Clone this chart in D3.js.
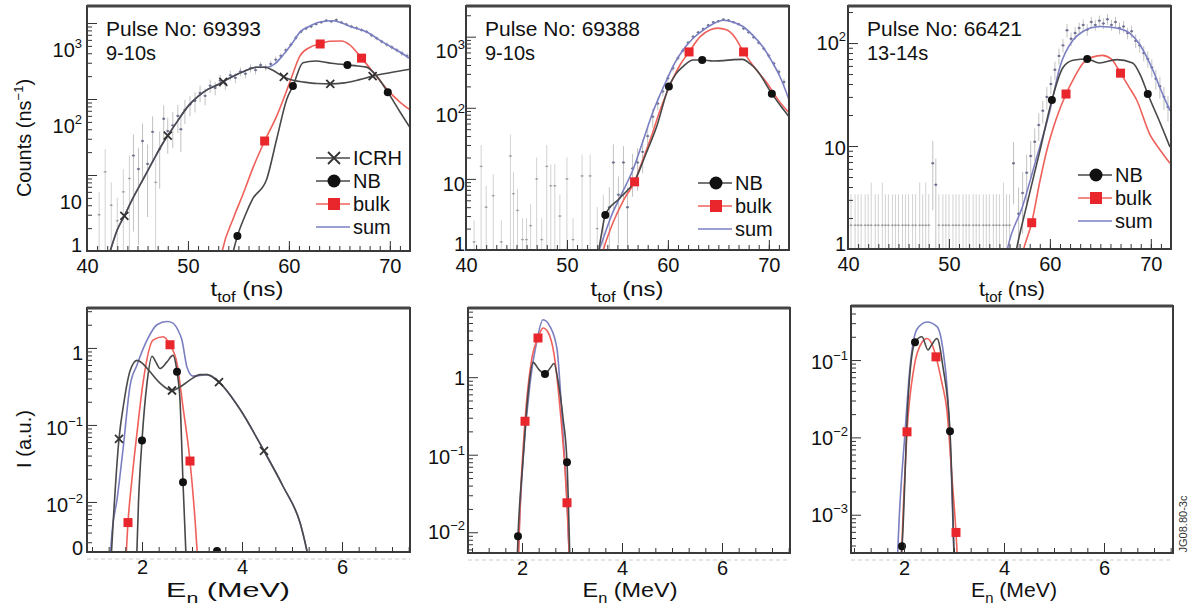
<!DOCTYPE html>
<html>
<head>
<meta charset="utf-8">
<script src="https://cdn.jsdelivr.net/npm/d3@7"></script>
<style>
  body { margin: 0; background: #fff; }
  svg { font-family: "Liberation Sans", Arial, Helvetica, sans-serif; }
</style>
</head>
<body>
<svg id="chart" width="1194" height="612"></svg>
<script>
// ---- data: [t (ns) or E (MeV), value] ----

// Pulse 69393, time of flight
const sum1 = [[41.6,0.5],[42.3,1.0],[43.0,1.9],[43.7,2.9],[44.5,4.8],[45.5,8.5],[46.5,15],[47.5,26],[48.0,33],[49,52],[50,80],[51,108],[52,135],[53,155],[54,185],[55,215],[56,245],[56.8,262],[57.8,262],[58.6,290],[59.5,390],[60.4,560],[61.1,760],[62.0,900],[63.1,1030],[64.4,1070],[65.2,1010],[66.0,910],[67.7,760],[69.3,560],[71.0,415],[72,340]];
const icrh1 = [[41.6,0.5],[42.3,1.0],[43.0,1.9],[43.7,2.9],[44.5,4.8],[45.5,8.5],[46.5,15],[47.5,26],[48.0,33],[49,52],[50,80],[51,108],[52,135],[53,155],[54,185],[55,215],[56,245],[56.8,262],[57.6,262],[58.5,235],[59.5,195],[60.5,175],[61.5,167],[62.8,160],[64.1,158],[65.5,163],[67,180],[68.3,200],[70,222],[72,247]];
const nb1 = [[54.0,0.5],[54.5,1.0],[54.9,1.57],[55.7,3.0],[56.4,4.8],[57.8,8.8],[58.8,30],[59.8,100],[60.4,148],[61.4,300],[62.6,316],[64.2,295],[65.8,280],[66.8,272],[67.7,263],[68.7,200],[69.8,123],[71.0,68],[72,42]];
const bulk1 = [[53.0,0.5],[53.4,1.0],[54.5,2.7],[55.5,5.8],[56.5,13],[57.6,28],[58.8,60],[60.1,167],[61.1,370],[62.1,480],[63.1,530],[64,575],[65.2,580],[66,520],[67.2,345],[68.3,230],[69.7,135],[71.0,91],[72,72]];
const icrhMarks1 = [[43.7,2.9],[48.0,33],[53.5,168],[59.5,195],[64.1,158],[68.3,200]];
const nbMarks1 = [[54.9,1.57],[60.4,148],[65.8,280],[69.8,123]];
const bulkMarks1 = [[57.6,28],[63.1,530],[67.2,345]];
// measured: [t, counts, relative error]
const meas1 = [[41.2,3,1],[41.8,11,1],[42.4,4,1],[43.0,2.5,1],[43.6,6,1],[44.2,9,1],[44.6,18,0.9],[45.1,12,0.9],[45.5,28,0.7],[46.0,14,0.8],[46.5,37,0.6],[46.8,8,1],[47.2,22,0.7],[47.6,55,0.5],[48.0,38,0.5],[48.5,45,0.5],[49.0,60,0.4],[49.3,40,0.5],[49.7,72,0.35],[50.2,85,0.3],[50.7,95,0.3],[51.2,120,0.25],[51.7,110,0.25],[52.2,150,0.2],[52.7,140,0.2],[53.2,175,0.18],[53.7,160,0.18],[54.2,205,0.15],[54.7,190,0.15],[55.2,230,0.13],[55.7,215,0.13],[56.2,255,0.12],[56.7,240,0.12],[57.2,280,0.1],[57.7,260,0.1],[58.2,290,0.1],[58.7,330,0.1],[59.2,370,0.08],[59.7,440,0.08],[60.2,520,0.07],[60.7,640,0.07],[61.2,770,0.06],[61.7,850,0.06],[62.2,900,0.05],[62.7,970,0.05],[63.2,1020,0.05],[63.7,1080,0.05],[64.2,1050,0.05],[64.7,1100,0.05],[65.2,1020,0.05],[65.7,960,0.05],[66.2,900,0.05],[66.7,860,0.05],[67.2,810,0.05],[67.7,770,0.05],[68.2,690,0.06],[68.7,630,0.06],[69.2,570,0.06],[69.7,520,0.07],[70.2,480,0.07],[70.7,440,0.07],[71.2,400,0.08],[71.7,370,0.08]];

// Pulse 69388, time of flight
const sum2 = [[52.8,0.7],[53.2,1.0],[54.4,3.0],[55.5,6.5],[56.5,13],[57.5,33],[58.5,86],[59.2,150],[59.9,250],[60.7,430],[61.5,650],[62.5,950],[63.5,1240],[64.5,1520],[65.5,1700],[66.5,1600],[67.4,1400],[68.4,1050],[69.4,720],[70.3,450],[71.1,275],[72,130]];
const nb2 = [[53.0,0.7],[53.4,1.6],[53.8,3.1],[55.2,5.3],[56.7,9.3],[57.8,22],[58.9,55],[60.1,199],[60.8,300],[61.5,380],[62.5,470],[63.4,470],[64.5,455],[65.5,460],[66.5,475],[67.4,480],[68.1,420],[68.8,340],[70.3,158],[71.2,105],[72,75]];
const bulk2 = [[53.3,0.7],[53.6,1.0],[54.6,2.5],[55.6,5],[56.7,9.1],[57.6,20],[58.5,45],[59.2,90],[59.9,164],[61.2,400],[62.1,610],[63.2,1000],[64.2,1250],[64.9,1320],[65.8,1250],[66.6,1000],[67.5,610],[68.5,380],[69.8,225],[71,125],[72,85]];
const nbMarks2 = [[53.8,3.1],[60.1,199],[63.4,470],[70.3,158]];
const bulkMarks2 = [[56.7,9.1],[62.1,610],[67.5,610]];
const meas2 = [[40.8,1.3,1],[41.5,15,1],[42.0,4,1],[42.7,5.8,1],[43.5,1.3,1],[44.4,21,1],[44.7,6.2,1],[45.1,3.6,1],[45.6,1.4,1],[46.0,1.4,1],[46.4,2.2,1],[47.0,10,1],[47.5,1.4,1],[48.0,15,1],[48.4,8,1],[48.8,8,1],[49.3,3,1],[50.0,10,1],[50.6,1.4,1],[51.5,11,1],[52.3,11,1],[53.0,2,1],[53.6,3,1],[54.2,4,0.9],[54.6,17,0.8],[55.1,6,0.8],[55.6,17,0.7],[56.0,4,0.9],[56.5,14,0.6],[57.0,17,0.6],[57.5,24,0.5],[58.0,40,0.4],[58.5,75,0.3],[59.0,115,0.2],[59.5,170,0.15],[60.0,260,0.12],[60.5,360,0.1],[61.0,500,0.08],[61.5,640,0.07],[62.0,820,0.06],[62.5,1000,0.06],[63.0,1150,0.05],[63.5,1280,0.05],[64.0,1450,0.05],[64.5,1600,0.04],[65.0,1650,0.04],[65.5,1750,0.04],[66.0,1700,0.04],[66.5,1600,0.04],[67.0,1500,0.05],[67.5,1300,0.05],[68.0,1150,0.05],[68.5,980,0.06],[69.0,820,0.06],[69.5,680,0.07],[70.0,540,0.08],[70.5,420,0.09],[71.0,320,0.1],[71.5,230,0.12]];

// Pulse 66421, time of flight
const sum3 = [[55.5,0.7],[55.8,1.0],[57.3,2.6],[58.7,7.8],[60.0,22],[61.0,59],[62.3,107],[63.2,128],[64.0,140],[65.0,145],[65.9,143],[67.0,137],[67.9,125],[68.8,100],[69.6,73],[70.3,52],[70.9,37],[71.9,22]];
const nb3 = [[56.4,0.7],[56.7,1.0],[57.8,2.9],[59.0,8.9],[60.2,28],[61.3,58],[62.3,68],[63.7,70],[64.9,64],[66.6,69],[68.2,64],[69.0,48],[69.7,32],[70.9,17],[71.9,9.8]];
const bulk3 = [[57.0,0.7],[57.4,1.0],[58.2,1.8],[59.0,4.5],[59.7,9.1],[60.6,18],[61.6,32],[62.4,46],[63.3,64],[64.2,73],[65.2,76],[66.1,70],[67.0,51],[67.8,38],[68.6,28],[69.9,13],[70.9,9.2],[71.9,6.8]];
const nbMarks3 = [[60.2,28],[63.7,70],[69.7,32]];
const bulkMarks3 = [[58.2,1.8],[61.6,32],[67.0,51]];
const meas3 = [[40.3,1.7,1],[40.7,1.7,1],[41.0,1.7,1],[41.3,1.7,1],[41.7,1.7,1],[42.0,1.7,1],[42.3,1.7,1.6],[42.7,1.7,1],[43.0,1.7,1],[43.4,1.7,1.6],[43.7,1.7,1],[44.0,1.7,1],[44.4,1.7,1],[44.7,1.7,1],[45.0,1.7,1],[45.4,1.7,1],[45.7,1.7,1],[46.0,1.7,1],[46.4,1.7,1],[46.7,1.7,1],[47.1,1.7,1.6],[47.4,1.7,1],[47.7,1.7,1.6],[48.0,1.7,1],[48.4,6.8,0.65],[48.7,4.2,0.8],[49.0,1.7,1],[49.4,1.7,1],[49.7,1.7,1],[50.0,1.7,1],[50.4,1.7,1],[50.7,1.7,1],[51.0,1.7,1],[51.4,1.7,1],[51.7,1.7,1],[52.0,1.7,1],[52.4,1.7,1],[52.7,1.7,1],[53.0,1.7,1],[53.4,1.7,1],[53.7,1.7,1],[54.0,1.7,1],[54.4,1.7,1],[54.7,1.7,1],[55.0,1.7,1],[55.4,1.7,1.6],[55.7,1.7,1],[56.0,1.7,1],[56.4,6.8,0.6],[56.9,2.2,0.8],[57.3,3.5,0.6],[57.7,5.5,0.5],[58.1,8,0.4],[58.5,11,0.35],[58.9,16,0.3],[59.3,22,0.25],[59.7,30,0.25],[60.1,40,0.2],[60.5,55,0.2],[60.9,75,0.18],[61.3,95,0.15],[61.7,133,0.15],[62.1,110,0.15],[62.5,125,0.14],[62.9,140,0.13],[63.3,150,0.13],[63.7,135,0.13],[64.1,160,0.12],[64.5,150,0.12],[64.9,165,0.12],[65.3,155,0.12],[65.7,170,0.12],[66.1,150,0.12],[66.5,160,0.12],[66.9,140,0.13],[67.3,145,0.13],[67.7,125,0.13],[68.1,130,0.14],[68.5,105,0.15],[68.9,95,0.15],[69.3,80,0.17],[69.7,70,0.18],[70.1,58,0.2],[70.5,45,0.22],[70.9,38,0.24],[71.3,30,0.25],[71.7,24,0.28]];

// Pulse 69393, energy spectrum
const sum4 = [[1.34,0.001],[1.40,0.004],[1.5,0.0107],[1.62,0.048],[1.76,0.32],[1.9,0.6],[2.1,1.26],[2.3,2.0],[2.5,2.2],[2.62,2.1],[2.72,1.7],[2.8,1.26],[2.9,0.56],[3.02,0.43],[3.3,0.45],[3.54,0.36],[3.96,0.16],[4.44,0.046],[4.82,0.016],[5.16,0.0054],[5.42,0.001]];
const icrh4 = [[1.36,0.001],[1.42,0.005],[1.54,0.066],[1.64,0.2],[1.76,0.5],[1.9,0.69],[2.02,0.62],[2.16,0.49],[2.36,0.35],[2.6,0.28],[2.82,0.33],[3.0,0.4],[3.16,0.45],[3.3,0.45],[3.54,0.36],[3.96,0.16],[4.44,0.046],[4.82,0.016],[5.16,0.0054],[5.42,0.001]];
const nb4 = [[1.88,0.001],[1.93,0.01],[2.0,0.063],[2.1,0.35],[2.2,0.78],[2.28,0.65],[2.36,0.54],[2.5,0.66],[2.62,0.8],[2.7,0.49],[2.76,0.21],[2.82,0.018],[2.88,0.002]];
const bulk4 = [[1.66,0.001],[1.72,0.0054],[1.8,0.02],[1.9,0.079],[2.02,0.35],[2.22,1.26],[2.42,1.4],[2.56,1.1],[2.7,0.63],[2.82,0.17],[2.96,0.034],[3.06,0.006],[3.14,0.001]];
const icrhMarks4 = [[1.54,0.066],[2.6,0.28],[3.54,0.36],[4.44,0.046]];
const nbMarks4 = [[2.0,0.063],[2.7,0.49],[2.82,0.018],[3.5,0.0023]];
const bulkMarks4 = [[1.72,0.0054],[2.56,1.1],[2.96,0.034]];

// Pulse 69388, energy spectrum
const sum5 = [[1.88,0.001],[1.94,0.01],[2.02,0.085],[2.16,0.83],[2.3,3.0],[2.42,5.5],[2.56,4.5],[2.7,2.3],[2.82,0.19],[2.9,0.025],[2.97,0.002]];
const nb5 = [[1.87,0.001],[1.92,0.0089],[2.02,0.085],[2.12,0.6],[2.22,1.55],[2.34,1.25],[2.46,1.1],[2.56,1.3],[2.64,1.5],[2.72,0.9],[2.82,0.3],[2.9,0.08],[2.97,0.002]];
const bulk5 = [[1.9,0.001],[1.96,0.02],[2.06,0.27],[2.2,1.8],[2.32,3.2],[2.42,4.3],[2.52,3.8],[2.64,2.0],[2.76,0.4],[2.9,0.024],[2.97,0.002]];
const nbMarks5 = [[1.92,0.0089],[2.46,1.1],[2.9,0.08]];
const bulkMarks5 = [[2.06,0.27],[2.32,3.2],[2.9,0.024]];

// Pulse 66421, energy spectrum
const sum6 = [[1.86,0.0002],[1.9,0.0008],[2.02,0.0115],[2.12,0.081],[2.26,0.25],[2.46,0.31],[2.66,0.27],[2.78,0.135],[2.88,0.03],[2.95,0.003],[3.0,0.0003]];
const nb6 = [[1.9,0.0002],[1.96,0.00039],[2.08,0.03],[2.22,0.17],[2.36,0.2],[2.48,0.135],[2.56,0.16],[2.66,0.19],[2.78,0.081],[2.92,0.012],[3.0,0.0003]];
const bulk6 = [[1.94,0.0002],[2.0,0.002],[2.06,0.0118],[2.2,0.08],[2.36,0.17],[2.46,0.19],[2.56,0.16],[2.64,0.11],[2.76,0.05],[2.86,0.022],[2.96,0.003],[3.04,0.00059],[3.08,0.0002]];
const nbMarks6 = [[1.96,0.00039],[2.22,0.17],[2.92,0.012]];
const bulkMarks6 = [[2.06,0.0118],[2.64,0.11],[3.04,0.00059]];

// tick labels
const tofTicks = [40, 50, 60, 70];
const enTicks = [2, 4, 6];
const yLabels1 = ['1', '10', '10^2', '10^3'];
const yLabels2 = ['1', '10', '10^2', '10^3'];
const yLabels3 = ['1', '10', '10^2'];
const yLabels4 = ['0', '10^−2', '10^−1', '1'];
const yLabels5 = ['10^−2', '10^−1', '1'];
const yLabels6 = ['10^−3', '10^−2', '10^−1'];

const styles = {
  icrh: { color: '#4a4a4a', marker: 'cross', label: 'ICRH' },
  nb:   { color: '#484848', marker: 'circle', label: 'NB' },
  bulk: { color: '#f0605a', marker: 'square', label: 'bulk' },
  sum:  { color: '#7b7fc2', marker: null, label: 'sum' }
};

const tofMinor = d3.range(40, 72.01, 1);
const enMinor = d3.range(1, 7.4, 1 / 3);

const panels = [
  { id: 1, x0: 87, y0: 6, w: 323, h: 245, xDom: [40, 72], yDom: [1, 1675],
    xTicks: tofTicks, xMinor: tofMinor, pad: 8,
    yTicks: [1, 10, 100, 1000], yLabels: yLabels1, yShift: [-6, 27, 27, 27], lx: 5,
    title: ['Pulse No: 69393', '9-10s'], meas: meas1, axisTitle: { cx: 247, w: 73, fs: 20 },
    curves: [{ key: 'sum', data: sum1 }, { key: 'bulk', data: bulk1, marks: bulkMarks1 },
             { key: 'nb', data: nb1, marks: nbMarks1 }, { key: 'icrh', data: icrh1, marks: icrhMarks1 }],
    legend: { dx: 266, dy: 152, keys: ['icrh', 'nb', 'bulk', 'sum'] } },
  { id: 2, x0: 466, y0: 6, w: 323, h: 244, xDom: [40, 72], yDom: [1, 2700],
    xTicks: tofTicks, xMinor: tofMinor, pad: 8,
    yTicks: [1, 10, 100, 1000], yLabels: yLabels2, yShift: [-6, 5, 7, 14], lx: 1,
    title: ['Pulse No: 69388', '9-10s'], meas: meas2, axisTitle: { cx: 627, w: 73, fs: 20 },
    curves: [{ key: 'sum', data: sum2 }, { key: 'bulk', data: bulk2, marks: bulkMarks2 },
             { key: 'nb', data: nb2, marks: nbMarks2 }],
    legend: { dx: 269, dy: 177, keys: ['nb', 'bulk', 'sum'] } },
  { id: 3, x0: 848, y0: 6, w: 323, h: 243, xDom: [40, 72], yDom: [1, 229],
    xTicks: tofTicks, xMinor: tofMinor, pad: 8,
    yTicks: [1, 10, 100], yLabels: yLabels3, yShift: [-5, 2, 0], lx: 2,
    title: ['Pulse No: 66421', '13-14s'], meas: meas3, axisTitle: { cx: 1012, w: 66, fs: 20 },
    curves: [{ key: 'sum', data: sum3 }, { key: 'bulk', data: bulk3, marks: bulkMarks3 },
             { key: 'nb', data: nb3, marks: nbMarks3 }],
    legend: { dx: 267, dy: 169, keys: ['nb', 'bulk', 'sum'] } },
  { id: 4, x0: 87, y0: 308, w: 323, h: 244, xDom: [0.9, 7.36], yDom: [0.00224, 3.3],
    xTicks: enTicks, xMinor: enMinor, pad: 8, axisTitle: { cx: 228, w: 124, fs: 21 },
    yTicks: [0.00224, 0.01, 0.1, 1], yLabels: yLabels4, yShift: [-4, 3, 3, 5], lx: 4,
    curves: [{ key: 'sum', data: sum4 }, { key: 'bulk', data: bulk4, marks: bulkMarks4 },
             { key: 'nb', data: nb4, marks: nbMarks4 }, { key: 'icrh', data: icrh4, marks: icrhMarks4 }] },
  { id: 5, x0: 468, y0: 308, w: 322, h: 245, xDom: [0.92, 7.36], yDom: [0.0054, 7.8],
    xTicks: enTicks, xMinor: enMinor, pad: 8, axisTitle: { cx: 630, w: 95, fs: 20 },
    yTicks: [0.01, 0.1, 1], yLabels: yLabels5, yShift: [0, 2, 1], lx: 3,
    curves: [{ key: 'sum', data: sum5 }, { key: 'bulk', data: bulk5, marks: bulkMarks5 },
             { key: 'nb', data: nb5, marks: nbMarks5 }] },
  { id: 6, x0: 851, y0: 306, w: 322, h: 247, xDom: [0.94, 7.38], yDom: [0.00032, 0.5],
    xTicks: enTicks, xMinor: enMinor, pad: 8, axisTitle: { cx: 1014, w: 86, fs: 20 },
    yTicks: [0.001, 0.01, 0.1], yLabels: yLabels6, yShift: [0, 1, 2], lx: 3,
    curves: [{ key: 'sum', data: sum6 }, { key: 'bulk', data: bulk6, marks: bulkMarks6 },
             { key: 'nb', data: nb6, marks: nbMarks6 }] }
];

const svg = d3.select('#chart');

function marker(g, type, cx, cy, s) {
  if (type === 'circle') {
    g.append('circle').attr('cx', cx).attr('cy', cy).attr('r', s / 2).attr('fill', '#111');
  } else if (type === 'square') {
    g.append('rect').attr('x', cx - s / 2).attr('y', cy - s / 2).attr('width', s).attr('height', s)
      .attr('fill', '#e8262c');
  } else if (type === 'cross') {
    const r = s / 2;
    g.append('path').attr('d', `M${cx - r},${cy - r}L${cx + r},${cy + r}M${cx - r},${cy + r}L${cx + r},${cy - r}`)
      .attr('stroke', '#333').attr('stroke-width', 1.8).attr('fill', 'none');
  }
}

function powerLabel(text, str) {
  const parts = str.split('^');
  text.append('tspan').text(parts[0]);
  if (parts[1]) text.append('tspan').attr('dy', -9).attr('font-size', 13).text(parts[1]);
}

// squeeze/stretch a text horizontally so it spans the width seen in the figure
function fitWidth(text, cx, w) {
  const bw = text.node().getComputedTextLength();
  const s = w / bw;
  text.attr('x', 0).attr('text-anchor', 'middle')
    .attr('transform', `translate(${cx},0) scale(${s},1)`);
}

function decadeMinors(dom) {
  const out = [];
  for (let k = Math.floor(Math.log10(dom[0])); k <= Math.ceil(Math.log10(dom[1])); k++) {
    for (let m = 2; m <= 9; m++) {
      const v = m * Math.pow(10, k);
      if (v > dom[0] && v < dom[1]) out.push(v);
    }
  }
  return out;
}

function drawPanel(p) {
  const x = d3.scaleLinear().domain(p.xDom).range([p.x0, p.x0 + p.w]);
  const y = d3.scaleLog().domain(p.yDom).range([p.y0 + p.h, p.y0]);
  const g = svg.append('g');

  g.append('clipPath').attr('id', 'clip' + p.id)
    .append('rect').attr('x', p.x0).attr('y', p.y0).attr('width', p.w).attr('height', p.h);
  const plot = g.append('g').attr('clip-path', `url(#clip${p.id})`);

  // faint print trace under the energy axes
  if (p.id > 3) {
    g.append('line').attr('x1', p.x0).attr('x2', p.x0 + p.w)
      .attr('y1', p.y0 + p.h + 7).attr('y2', p.y0 + p.h + 7)
      .attr('stroke', '#e6e6e6').attr('stroke-width', 2).attr('stroke-dasharray', '4,3');
  }

  // measured spectrum with error bars
  if (p.meas) {
    const lowest = p.yDom[0] * 0.5;
    plot.append('g').selectAll('line').data(p.meas).join('line')
      .attr('x1', d => x(d[0])).attr('x2', d => x(d[0]))
      .attr('y1', d => y(d[2] >= 1 ? lowest : d[1] * (1 - d[2])))
      .attr('y2', d => y(d[1] * (1 + d[2])))
      .attr('stroke', d => d[2] >= 1 ? '#d2d2d2' : '#c2c2c2').attr('stroke-width', 1);
    plot.append('g').selectAll('line').data(p.meas).join('line')
      .attr('x1', d => x(d[0]) - 1.6).attr('x2', d => x(d[0]) + 1.6)
      .attr('y1', d => y(d[1])).attr('y2', d => y(d[1]))
      .attr('stroke', d => d[2] >= 1 ? '#b8b8b8' : '#8a8ea6').attr('stroke-width', 1);
    plot.append('g').selectAll('circle').data(p.meas).join('circle')
      .attr('cx', d => x(d[0])).attr('cy', d => y(d[1])).attr('r', d => d[2] >= 1 ? 0.9 : 1.2)
      .attr('fill', d => d[2] >= 1 ? '#9a9a9a' : '#6d7190');
  }

  const line = d3.line().x(d => x(d[0])).y(d => y(d[1])).curve(d3.curveMonotoneX);
  p.curves.forEach(c => {
    plot.append('path').datum(c.data).attr('d', line)
      .attr('fill', 'none').attr('stroke', styles[c.key].color).attr('stroke-width', 1.6);
  });
  p.curves.forEach(c => {
    if (!c.marks) return;
    const size = c.key === 'bulk' ? 9 : 8;
    c.marks.forEach(d => marker(plot, styles[c.key].marker, x(d[0]), y(d[1]), size));
  });

  // x axis: ticks point inward, labels below
  const bx = g.append('g').attr('transform', `translate(0,${p.y0 + p.h})`);
  bx.append('g').call(d3.axisBottom(x).tickValues(p.xMinor).tickSizeInner(-5).tickSizeOuter(0).tickFormat(''));
  bx.append('g').call(d3.axisBottom(x).tickValues(p.xTicks).tickSizeInner(-10).tickSizeOuter(0)
      .tickPadding(p.pad).tickFormat(d3.format('d')));
  bx.selectAll('.domain').remove();
  bx.selectAll('line').attr('stroke', '#333');
  bx.selectAll('text').attr('font-size', 20).attr('font-family', null).attr('fill', '#111');

  // y axis (log)
  const ly = g.append('g').attr('transform', `translate(${p.x0},0)`);
  ly.append('g').call(d3.axisLeft(y).tickValues(decadeMinors(p.yDom)).tickSizeInner(-5).tickSizeOuter(0).tickFormat(''));
  ly.append('g').call(d3.axisLeft(y).tickValues(p.yTicks).tickSizeInner(-10).tickSizeOuter(0).tickFormat(''));
  ly.selectAll('.domain').remove();
  ly.selectAll('line').attr('stroke', '#333');

  p.yTicks.forEach((v, i) => {
    const t = g.append('text').attr('x', p.x0 - p.lx).attr('y', y(v) + p.yShift[i] + 7)
      .attr('text-anchor', 'end').attr('font-size', 20).attr('fill', '#111');
    powerLabel(t, p.yLabels[i]);
  });

  // frame
  g.append('rect').attr('x', p.x0).attr('y', p.y0).attr('width', p.w).attr('height', p.h)
    .attr('fill', 'none').attr('stroke', '#3a3a3a').attr('stroke-width', 2);
  g.append('line').attr('x1', p.x0).attr('x2', p.x0 + p.w).attr('y1', p.y0).attr('y2', p.y0)
    .attr('stroke', '#444').attr('stroke-width', 3);

  if (p.title) {
    p.title.forEach((s, i) => {
      const t = g.append('text').attr('x', p.x0 + 19).attr('y', p.y0 + 30 + i * 24)
        .attr('font-size', 20).attr('fill', '#111').text(s);
      if (i === 0) t.attr('textLength', 155).attr('lengthAdjust', 'spacingAndGlyphs');
    });
  }

  if (p.legend) {
    const tx = p.x0 + p.legend.dx;
    p.legend.keys.forEach((k, i) => {
      const cy = p.y0 + p.legend.dy + i * 23;
      g.append('line').attr('x1', tx - 37).attr('x2', tx - 3).attr('y1', cy).attr('y2', cy)
        .attr('stroke', styles[k].color).attr('stroke-width', 1.6);
      if (styles[k].marker) marker(g, styles[k].marker, tx - 19, cy, styles[k].marker === 'circle' ? 13 : 12);
      g.append('text').attr('x', tx).attr('y', cy + 7).attr('font-size', 20).attr('fill', '#111')
        .text(styles[k].label);
    });
  }

  // axis title
  const fs = p.axisTitle.fs;
  const title = g.append('text').attr('font-size', fs).attr('fill', '#111');
  if (p.id <= 3) {
    title.attr('y', 296);
    title.append('tspan').text('t');
    title.append('tspan').attr('dy', 6).attr('font-size', fs * 0.7).text('tof');
    title.append('tspan').attr('dy', -6).text(' (ns)');
  } else {
    title.attr('y', 597);
    title.append('tspan').text('E');
    title.append('tspan').attr('dy', 6).attr('font-size', fs * 0.7).text('n');
    title.append('tspan').attr('dy', -6).text(' (MeV)');
  }
  fitWidth(title, p.axisTitle.cx, p.axisTitle.w);
}

panels.forEach(drawPanel);

// y axis titles
const yt1 = svg.append('text').attr('transform', 'translate(31,138) rotate(-90)')
  .attr('text-anchor', 'middle').attr('font-size', 20).attr('fill', '#111');
yt1.append('tspan').text('Counts (ns');
yt1.append('tspan').attr('dy', -8).attr('font-size', 13).text('−1');
yt1.append('tspan').attr('dy', 8).text(')');

svg.append('text').attr('transform', 'translate(31,439) rotate(-90)')
  .attr('text-anchor', 'middle').attr('font-size', 20).attr('fill', '#111').text('I (a.u.)');

svg.append('text').attr('transform', 'translate(1187,524) rotate(-90)')
  .attr('text-anchor', 'middle').attr('font-size', 11).attr('fill', '#333').text('JG08.80-3c');
</script>
</body>
</html>
